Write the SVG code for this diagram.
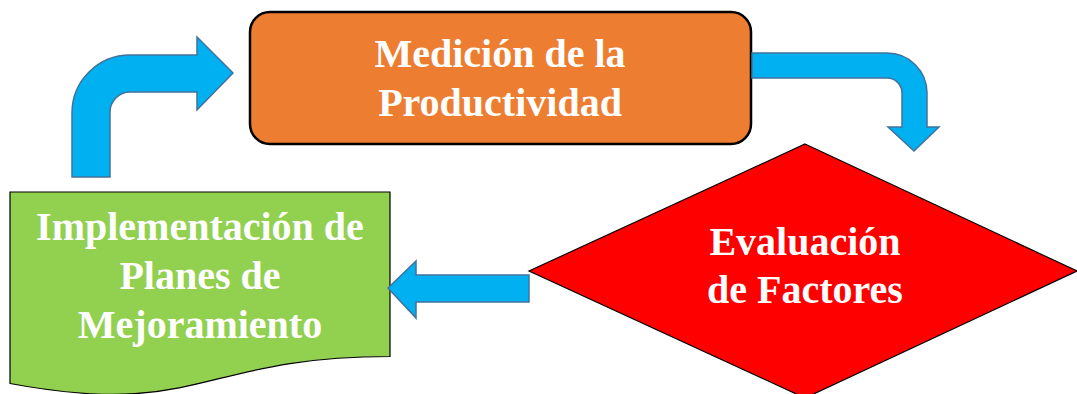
<svg xmlns="http://www.w3.org/2000/svg" width="1077" height="394" viewBox="0 0 1077 394">
  <style>
    .lbl { font-family: "Liberation Serif", "Times New Roman", serif; font-weight: bold; font-size: 40px; fill: #FFFFFF; text-anchor: middle; }
    .arrow { fill: #00B0F0; stroke: #41719C; stroke-width: 1.5; stroke-linejoin: miter; }
    .node { stroke: #000000; }
  </style>
  <rect width="1077" height="394" fill="#FFFFFF"/>
  <g id="node-medicion">
    <rect class="node" x="250" y="12" width="501" height="132" rx="20" ry="20" fill="#ED7D31" stroke-width="2.5"/>
    <text class="lbl" x="500" y="67">Medición de la</text>
    <text class="lbl" x="500" y="116">Productividad</text>
  </g>
  <g id="node-evaluacion">
    <polygon class="node" points="805,144 1077,271 805,398 529,271" fill="#FF0000" stroke-width="1.2"/>
    <text class="lbl" x="805" y="255">Evaluación</text>
    <text class="lbl" x="805" y="303">de Factores</text>
  </g>
  <g id="node-implementacion">
    <path class="node" d="M10,192 H390 V356.5 C200,356.5 200,419 10,383.5 Z" fill="#92D050" stroke-width="1.2"/>
    <text class="lbl" x="200" y="240">Implementación de</text>
    <text class="lbl" x="200" y="289">Planes de</text>
    <text class="lbl" x="200" y="338">Mejoramiento</text>
  </g>
  <g id="connectors">
    <path class="arrow" d="M72,177 V113 A58,58 0 0 1 130,55 H197 V37 L233,73 L197,110 V92 H130 A20,20 0 0 0 110,112 V177 Z"/>
    <path class="arrow" d="M752,53 H887 A40,40 0 0 1 927,93 V127 H939 L914,151 L888,127 H902 V93 A15,15 0 0 0 887,78 H752 Z"/>
    <path class="arrow" d="M529,275 H416 V261 L388,288 L416,318 V302 H529 Z"/>
  </g>
</svg>
